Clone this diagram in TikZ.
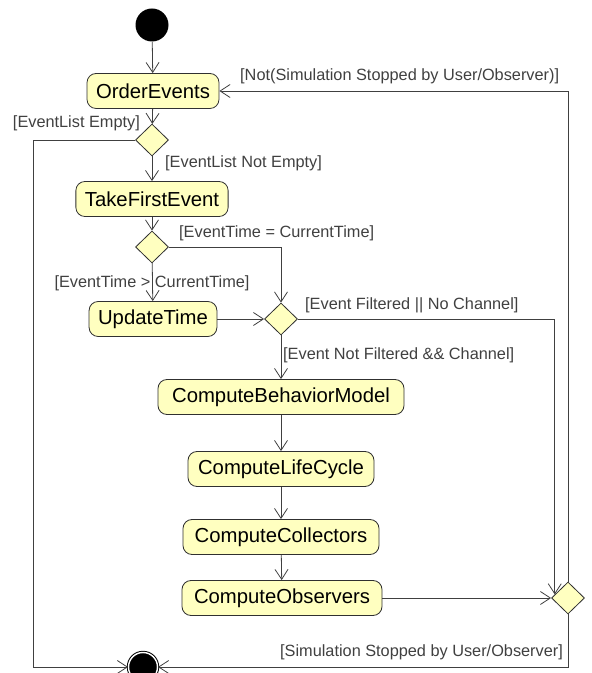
\documentclass[tikz,border=0pt]{standalone}
\usepackage{fontspec}
\setmainfont{Liberation Sans}
\usetikzlibrary{shapes.geometric,arrows.meta}
\definecolor{groc}{HTML}{FFFFC0}
\definecolor{vora}{HTML}{303030}
\definecolor{traç}{HTML}{404040}
\tikzset{
  activitat/.style={draw=vora, fill=groc, rounded corners=9pt, line width=.8pt,
    minimum height=35pt, inner xsep=9pt, font=\fontsize{20.3}{24}\selectfont},
  decisio/.style={diamond, draw=vora, fill=groc, line width=.8pt,
    minimum width=33pt, minimum height=32pt, inner sep=0pt},
  inici/.style={circle, fill=black, minimum size=33pt, inner sep=0pt},
  acabament/.style={circle, fill=black, draw=black, double=white,
    double distance=1.4pt, line width=1pt, minimum size=29pt, inner sep=0pt},
  flux/.style={draw=traç, line width=.8pt,
    -{Straight Barb[length=10pt, width=13pt]}},
  guarda/.style={text=black!75, font=\fontsize{16.3}{19}\selectfont, inner sep=0pt},
}

\begin{document}
\begin{tikzpicture}[x=1pt,y=1pt]
  \useasboundingbox (0,0) rectangle (592,673);

  % activitats i decisions
  \node[inici] (inici) at (152,648) {};
  \node[activitat] (ordena) at (153,582) {OrderEvents};
  \node[decisio] (d1) at (152,533) {};
  \node[activitat] (primer) at (152,474) {TakeFirstEvent};
  \node[decisio] (d2) at (152,426) {};
  \node[activitat] (temps) at (153,354) {UpdateTime};
  \node[decisio] (d3) at (281,354) {};
  \node[activitat, minimum width=246pt] (comport) at (281,276) {ComputeBehaviorModel};
  \node[activitat, minimum width=186pt] (cicle) at (281,204) {ComputeLifeCycle};
  \node[activitat, minimum width=196pt] (colect) at (281,136) {ComputeCollectors};
  \node[activitat, minimum width=200pt] (observ) at (282,75) {ComputeObservers};
  \node[decisio] (d4) at (568,75) {};
  \node[acabament] (fi) at (143,6) {};
  \coordinate (esq) at (33,0);

  % transicions
  \draw[flux] (inici) -- (ordena);
  \draw[flux] (ordena) -- (d1);
  \draw[flux] (d1) -- (primer);
  \draw[flux] (d1.west) -- (d1.west -| esq) |- (fi);
  \draw[flux] (primer) -- (d2);
  \draw[flux] (d2) -- (temps);
  \draw[flux] (d2.east) -| (d3);
  \draw[flux] (temps) -- (d3);
  \draw[flux] (d3) -- (comport);
  \draw[flux] (d3.east) -| (d4.165);
  \draw[flux] (comport) -- (cicle);
  \draw[flux] (cicle) -- (colect);
  \draw[flux] (colect) -- (observ);
  \draw[flux] (observ) -- (d4);
  \draw[flux] (d4.north) |- (ordena);
  \draw[flux] (d4.south) |- (fi);

  % guardes
  \node[guarda, anchor=west] (lNoAtura) at (240,597) {[Not(Simulation Stopped by User/Observer)]};
  \node[guarda, anchor=east] (lBuida) at (140,549.5) {[EventList Empty]};
  \node[guarda, anchor=west] (lNoBuida) at (165,509.5) {[EventList Not Empty]};
  \node[guarda, anchor=west] (lIgual) at (179,440) {[EventTime = CurrentTime]};
  \node[guarda] (lMajor) at (152,389.5) {[EventTime > CurrentTime]};
  \node[guarda, anchor=west] (lFiltrat) at (305,368) {[Event Filtered || No Channel]};
  \node[guarda, anchor=west] (lNoFiltrat) at (283,318) {[Event Not Filtered \&\& Channel]};
  \node[guarda, anchor=west] (lAtura) at (280,21) {[Simulation Stopped by User/Observer]};
\end{tikzpicture}
\end{document}
